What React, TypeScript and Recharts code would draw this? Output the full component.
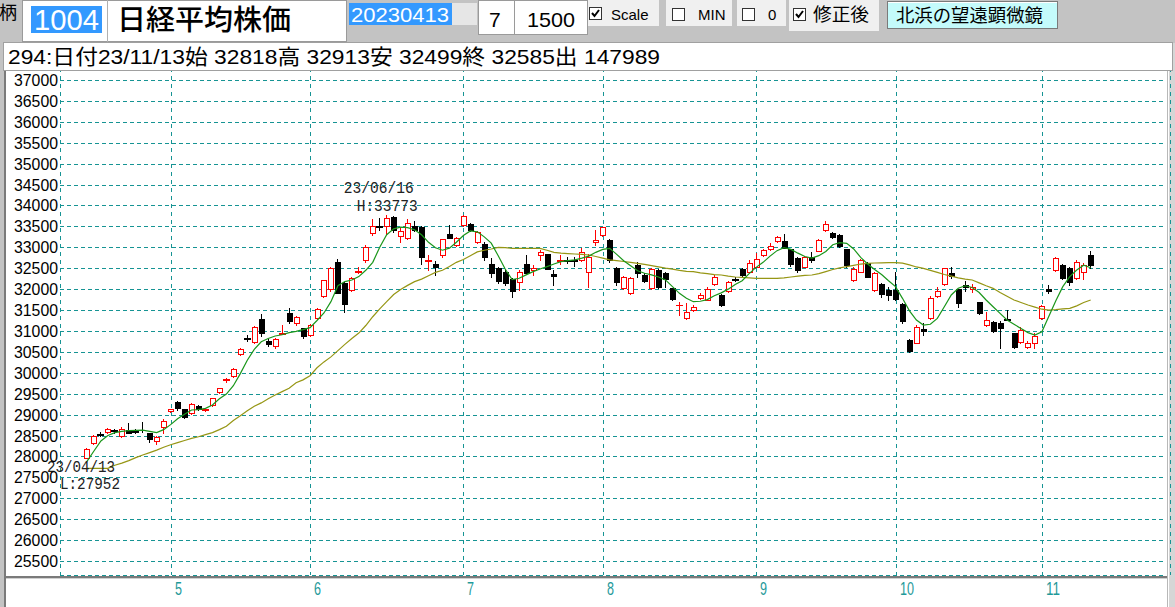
import { Bar, CartesianGrid, ComposedChart, Line, ReferenceDot, XAxis, YAxis } from 'recharts';

// 2023 trading days, MM/DD
const dates = [
  // Apr
  '04/13', '04/14', '04/17', '04/18', '04/19', '04/20', '04/21', '04/24', '04/25', '04/26', '04/27', '04/28',
  // May
  '05/01', '05/02', '05/08', '05/09', '05/10', '05/11', '05/12', '05/15', '05/16', '05/17',
  '05/18', '05/19', '05/22', '05/23', '05/24', '05/25', '05/26', '05/29', '05/30', '05/31',
  // Jun
  '06/01', '06/02', '06/05', '06/06', '06/07', '06/08', '06/09', '06/12', '06/13', '06/14',
  '06/15', '06/16', '06/19', '06/20', '06/21', '06/22', '06/23', '06/26', '06/27', '06/28', '06/29', '06/30',
  // Jul
  '07/03', '07/04', '07/05', '07/06', '07/07', '07/10', '07/11', '07/12', '07/13', '07/14',
  '07/18', '07/19', '07/20', '07/21', '07/24', '07/25', '07/26', '07/27', '07/28', '07/31',
  // Aug
  '08/01', '08/02', '08/03', '08/04', '08/07', '08/08', '08/09', '08/10', '08/14', '08/15',
  '08/16', '08/17', '08/18', '08/21', '08/22', '08/23', '08/24', '08/25', '08/28', '08/29', '08/30', '08/31',
  // Sep
  '09/01', '09/04', '09/05', '09/06', '09/07', '09/08', '09/11', '09/12', '09/13', '09/14',
  '09/15', '09/19', '09/20', '09/21', '09/22', '09/25', '09/26', '09/27', '09/28', '09/29',
  // Oct
  '10/02', '10/03', '10/04', '10/05', '10/06', '10/10', '10/11', '10/12', '10/13', '10/16',
  '10/17', '10/18', '10/19', '10/20', '10/23', '10/24', '10/25', '10/26', '10/27', '10/30', '10/31',
  // Nov
  '11/01', '11/02', '11/06', '11/07', '11/08', '11/09', '11/10', '11/13',
];

const opens = [
  27970, 28320, 28540, 28590, 28625, 28480, 28620, 28610, 28640, 28560, 28360, 28710,
  29090, 29300, 29130, 29040, 29200, 29110, 29230, 29540, 29820, 29920,
  30460, 30840, 30730, 31280, 30750, 30640, 30930, 31420, 31190, 31060,
  30910, 31310, 31840, 32000, 32650, 32140, 31990, 32420, 32690, 33340,
  33520, 33500, 33720, 33260, 33220, 33500, 33490, 32670, 32600, 32820, 33330, 33050,
  33540, 33550, 33120, 33090, 32600, 32500, 32420, 32250, 32180, 32610,
  32450, 32820, 32830, 32350, 32680, 32700, 32690, 32700, 32420, 33120,
  33300, 33180, 32500, 32020, 31900, 32570, 32340, 32020, 32450, 32380,
  32020, 31610, 31310, 31500, 31790, 31750, 32130, 31860, 31950, 32240, 32480, 32420,
  32540, 32820, 32960, 33140, 33160, 32950, 32740, 32540, 32760, 32920,
  33420, 33350, 33294, 32952, 32210, 32420, 32617, 31980, 32130, 31990,
  31990, 31644, 30783, 30719, 31050, 31300, 31840, 32120, 32380, 31994,
  32100, 32000, 31684, 31140, 31222, 31200, 31290, 30943, 30740, 30620, 30700,
  31302, 32000, 32457, 32577, 32498, 32258, 32420, 32818,
];

const highs = [
  28190, 28520, 28580, 28690, 28650, 28700, 28790, 28650, 28830, 28570, 28480, 28890,
  29140, 29330, 29140, 29280, 29220, 29140, 29400, 29640, 29870, 30120,
  30600, 30900, 31110, 31400, 30800, 30830, 31140, 31560, 31360, 31080,
  31160, 31540, 32230, 32540, 32720, 32160, 32290, 32540, 33060, 33670,
  33700, 33773, 33760, 33470, 33670, 33640, 33520, 32820, 32680, 33200, 33530, 33250,
  33770, 33580, 33390, 33120, 32740, 32520, 32450, 32270, 32460, 32820,
  32580, 32940, 32850, 32460, 32820, 32760, 32780, 32980, 32830, 33410,
  33490, 33200, 32520, 32310, 32300, 32660, 32380, 32500, 32470, 32400,
  32030, 31700, 31660, 31620, 31900, 32060, 32340, 31880, 32200, 32300, 32500, 32700,
  32860, 32960, 33096, 33260, 33330, 32960, 32760, 32800, 32890, 33190,
  33640, 33370, 33310, 32960, 32540, 32720, 32650, 32400, 32150, 32050,
  32400, 31660, 30800, 31140, 31180, 31830, 32040, 32500, 32537, 32000,
  32200, 32120, 31700, 31460, 31230, 31230, 31510, 30960, 31100, 30760, 30940,
  31620, 32098, 32760, 32600, 32520, 32700, 32620, 32913,
];

const lows = [
  27952, 28300, 28480, 28570, 28560, 28460, 28550, 28560, 28580, 28350, 28290, 28560,
  29070, 29120, 28930, 29020, 29110, 29080, 29200, 29520, 29780, 29900,
  30430, 30760, 30700, 30870, 30650, 30600, 30920, 31200, 31150, 30820,
  30880, 31280, 31820, 31960, 31900, 31460, 31950, 32380, 32660, 33300,
  33420, 33330, 33360, 33130, 33200, 33380, 32610, 32450, 32340, 32780, 33220, 33030,
  33520, 33400, 33100, 32700, 32300, 32150, 32100, 31820, 31980, 32370,
  32340, 32690, 32470, 32100, 32610, 32620, 32560, 32680, 32040, 33050,
  33280, 32650, 32100, 32000, 31880, 32300, 32180, 32000, 32020, 32050,
  31740, 31380, 31290, 31470, 31760, 31730, 32100, 31600, 31930, 32200, 32320, 32400,
  32520, 32800, 32940, 33120, 32980, 32550, 32410, 32520, 32650, 32900,
  33400, 33220, 33000, 32540, 32190, 32400, 32280, 31960, 31800, 31750,
  31740, 31200, 30487, 30700, 30900, 31280, 31820, 32100, 32258, 31580,
  31950, 31940, 31400, 31120, 30980, 30585, 31250, 30600, 30700, 30590, 30600,
  31280, 31900, 32440, 32250, 32100, 32240, 32250, 32499,
];

const closes = [
  28170, 28500, 28520, 28660, 28607, 28660, 28564, 28593, 28620, 28416, 28457, 28856,
  29123, 29158, 28950, 29243, 29122, 29127, 29388, 29626, 29843, 30093,
  30573, 30808, 31086, 30958, 30683, 30801, 30950, 31234, 31328, 30888,
  31148, 31524, 32217, 32506, 31914, 31641, 32265, 32434, 33018, 33502,
  33485, 33706, 33420, 33388, 33575, 33410, 32780, 32699, 32538, 33194, 33234, 33230,
  33753, 33422, 33370, 32773, 32388, 32190, 32150, 31944, 32420, 32391,
  32494, 32896, 32490, 32304, 32700, 32682, 32668, 32891, 32760, 33172,
  33476, 32708, 32159, 32290, 32255, 32377, 32204, 32474, 32060, 32239,
  31767, 31626, 31451, 31566, 31857, 32010, 32287, 31624, 32170, 32227, 32340, 32619,
  32711, 32939, 33037, 33241, 32991, 32607, 32468, 32776, 32707, 33168,
  33560, 33243, 33024, 32571, 32480, 32690, 32300, 32380, 31873, 31858,
  31760, 31238, 30527, 31102, 30995, 31780, 31950, 32495, 32316, 31659,
  32040, 32042, 31431, 31270, 31000, 31062, 31270, 30624, 31030, 30720, 30880,
  31596, 31950, 32737, 32272, 32166, 32660, 32568, 32585,
];

// short moving average (green)
const shortAverage = [
  27880, 28130, 28370, 28500, 28570, 28600, 28615, 28625, 28630, 28600, 28570, 28640,
  28760, 28900, 29010, 29110, 29120, 29150, 29230, 29380, 29490, 29690,
  29980, 30300, 30560, 30740, 30820, 30880, 30910, 30960, 30990, 31030,
  31080, 31250, 31430, 31700, 32080, 32180, 32218, 32300, 32450, 32640,
  33000, 33300, 33440, 33480, 33470, 33420, 33300, 33120, 32990, 32930, 32980, 33120,
  33280, 33390, 33370, 33250, 33100, 32800, 32480, 32230, 32260, 32340,
  32418, 32480, 32537, 32600, 32656, 32680, 32700, 32740, 32790, 32880,
  32950, 32975, 32830, 32680, 32560, 32440, 32380, 32340, 32290, 32220,
  32060, 31900, 31780, 31700, 31710, 31750, 31840, 31910, 32000, 32110, 32200, 32370,
  32520, 32640, 32790, 32920, 32990, 32950, 32860, 32780, 32740, 32800,
  32900, 33060, 33110, 33096, 32960, 32760, 32600, 32470, 32350, 32200,
  32060, 31780, 31480, 31260, 31140, 31160, 31300, 31580, 31860, 32020,
  32080, 32040, 31920, 31740, 31580, 31420, 31262, 31160, 31060, 30960, 30900,
  30982, 31350, 31720, 32060, 32300, 32457, 32570, 32510,
];

// long moving average (olive)
const longAverage = [
  27716, 27716, 27716, 27716, 27790, 27840, 27900, 27970, 28034, 28090, 28150, 28220,
  28280, 28330, 28380, 28430, 28470, 28520, 28570, 28640, 28720, 28860,
  28970, 29090, 29200, 29280, 29380, 29470, 29550, 29630, 29760, 29830,
  29930, 30120, 30260, 30380, 30530, 30680, 30820, 30950, 31130, 31340,
  31530, 31700, 31870, 31990, 32090, 32180, 32240, 32320, 32400, 32450, 32540, 32640,
  32710, 32800, 32890, 32930, 32960, 33000, 32990, 32975, 32975, 32975,
  32975, 32975, 32930, 32880, 32860, 32850, 32840, 32830, 32816, 32780,
  32740, 32700, 32680, 32660, 32640, 32617, 32590, 32560, 32530, 32500,
  32480, 32450, 32425, 32418, 32390, 32370, 32345, 32338, 32310, 32290, 32280, 32270,
  32258, 32258, 32258, 32258, 32270, 32290, 32310, 32330, 32338, 32370,
  32420, 32470, 32510, 32537, 32570, 32600, 32617, 32625, 32630, 32632,
  32632, 32620, 32580, 32530, 32498, 32450, 32400, 32350, 32310, 32270,
  32240, 32218, 32150, 32080, 32019, 31920, 31830, 31740, 31680, 31620, 31570,
  31520, 31500, 31510, 31530, 31541, 31600, 31680, 31740,
];

const priceTicks = [
  25500, 26000, 26500, 27000, 27500, 28000, 28500, 29000, 29500, 30000, 30500, 31000,
  31500, 32000, 32500, 33000, 33500, 34000, 34500, 35000, 35500, 36000, 36500, 37000,
];

const highlightHigh = 43;
const highlightLow = 0;

const gridColor = '#169494';
const jpFont = "'Liberation Sans', 'Noto Sans CJK JP', sans-serif";

const monthStarts = dates
  .map((d, i) => (i > 0 && d.slice(0, 2) !== dates[i - 1].slice(0, 2) ? i : -1))
  .filter((i) => i >= 0);

const rows = dates.map((date, i) => ({
  idx: i,
  date,
  open: opens[i],
  high: highs[i],
  low: lows[i],
  close: closes[i],
  short: shortAverage[i],
  long: longAverage[i],
}));

function Candle(props: any) {
  const { x, y, width, height, payload } = props;
  if (x == null || y == null || !payload) return null;
  const top = Math.min(y, y + height);
  const h = Math.abs(height);
  const span = payload.high - payload.low;
  const k = span > 0 ? h / span : 0;
  const py = (v: number) => top + (payload.high - v) * k;
  const cx = Math.round(x + width / 2);
  const up = payload.close >= payload.open;
  const color = up ? '#ff0000' : '#000000';
  const bodyTop = Math.round(py(Math.max(payload.open, payload.close)));
  const bodyBottom = Math.round(py(Math.min(payload.open, payload.close)));
  const wickTop = Math.round(top);
  const wickBottom = Math.round(top + h);
  const wx = cx + 0.5;

  if (bodyBottom - bodyTop < 2) {
    return (
      <g shapeRendering="crispEdges">
        <line x1={wx} x2={wx} y1={wickTop} y2={wickBottom + 1} stroke={color} />
        <line x1={cx - 3} x2={cx + 4} y1={bodyTop + 0.5} y2={bodyTop + 0.5} stroke={color} strokeWidth={bodyBottom - bodyTop + 1} />
      </g>
    );
  }
  return (
    <g shapeRendering="crispEdges">
      {bodyTop > wickTop && <line x1={wx} x2={wx} y1={wickTop} y2={bodyTop} stroke={color} />}
      {wickBottom > bodyBottom && <line x1={wx} x2={wx} y1={bodyBottom} y2={wickBottom + 1} stroke={color} />}
      {up ? (
        <rect x={cx - 2 + 0.5} y={bodyTop + 0.5} width={5} height={bodyBottom - bodyTop} fill="#ffffff" stroke={color} />
      ) : (
        <rect x={cx - 2} y={bodyTop} width={6} height={bodyBottom - bodyTop + 1} fill={color} />
      )}
    </g>
  );
}

function GridRow(p: any) {
  const y = Math.round(p.y1) + 0.5;
  return (
    <line
      key={p.key}
      x1={p.x1}
      x2={Math.min(p.x2, 1166)}
      y1={y}
      y2={y}
      stroke={gridColor}
      strokeDasharray="4 3"
      shapeRendering="crispEdges"
    />
  );
}

function GridColumn(p: any) {
  const x = Math.round(p.x1) + 0.5;
  return (
    <line
      key={p.key}
      x1={x}
      x2={x}
      y1={p.y1}
      y2={p.y2}
      stroke={gridColor}
      strokeDasharray="4 4"
      shapeRendering="crispEdges"
    />
  );
}

function PriceTick({ y, payload }: any) {
  return (
    <text x={58} y={y + 6} textAnchor="end" fontSize={16} textLength={44} lengthAdjust="spacingAndGlyphs" fontFamily="'Liberation Sans', Arial, sans-serif" fill="#000">
      {payload.value}
    </text>
  );
}

function MonthTick({ x, payload }: any) {
  const label = String(Number(dates[payload.value].slice(0, 2)));
  return (
    <text
      x={Math.round(x) + 4}
      y={595}
      fontSize={19}
      textLength={label.length * 7}
      lengthAdjust="spacingAndGlyphs"
      fontFamily="'Liberation Sans', Arial, sans-serif"
      fill="#1f9a9a"
    >
      {label}
    </text>
  );
}

function HighNote({ cx, cy }: any) {
  return (
    <g fontFamily="'Liberation Mono', 'DejaVu Sans Mono', monospace" fontSize={16} fill="#222">
      <text x={cx - 43} y={cy - 22} textLength={70} lengthAdjust="spacingAndGlyphs">
        {'23/' + dates[highlightHigh]}
      </text>
      <text x={cx - 30} y={cy - 4} textLength={61} lengthAdjust="spacingAndGlyphs">
        {'H:' + highs[highlightHigh]}
      </text>
    </g>
  );
}

function LowNote({ cx, cy }: any) {
  return (
    <g fontFamily="'Liberation Mono', 'DejaVu Sans Mono', monospace" fontSize={16} fill="#222">
      <text x={cx - 40} y={cy + 14} textLength={68} lengthAdjust="spacingAndGlyphs">
        {'23/' + dates[highlightLow]}
      </text>
      <text x={cx - 27} y={cy + 31} textLength={60} lengthAdjust="spacingAndGlyphs">
        {'L:' + lows[highlightLow]}
      </text>
    </g>
  );
}

function CheckBox({ x, y, checked }: { x: number; y: number; checked: boolean }) {
  return (
    <g>
      <rect x={x + 0.5} y={y + 0.5} width={12} height={12} fill="#ffffff" stroke="#333" />
      {checked && <path d={`M${x + 3} ${y + 6} l2.5 3 l4.5 -6`} stroke="#000" strokeWidth={2} fill="none" />}
    </g>
  );
}

function Header() {
  const last = dates.length - 1;
  const info = `294:日付23/${dates[last]}始 ${opens[last]}高 ${highs[last]}安 ${lows[last]}終 ${closes[last]}出 147989`;
  return (
    <svg width={1175} height={72} style={{ position: 'absolute', left: 0, top: 0 }}>
      <rect x={0} y={0} width={1175} height={43} fill="#c3c3c3" />
      <text x={-1} y={19} fontSize={18} fontFamily={jpFont} fill="#000">柄</text>

      <rect x={22.5} y={0.5} width={324} height={41} fill="#ffffff" stroke="#9a9a9a" />
      <rect x={31} y={6} width={71} height={27} fill="#3399ff" />
      <text x={34} y={30} fontSize={30} textLength={65} lengthAdjust="spacingAndGlyphs" fontFamily="'Liberation Sans', Arial" fill="#ffffff">1004</text>
      <line x1={107.5} x2={107.5} y1={0} y2={42} stroke="#b0b0b0" />
      <text x={117} y={30} fontSize={28} fontWeight={500} textLength={174} lengthAdjust="spacingAndGlyphs" fontFamily="'Noto Sans CJK JP', sans-serif" fill="#000">日経平均株価</text>

      <rect x={349} y={3} width={103} height={22} fill="#3399ff" />
      <text x={351} y={22} fontSize={21} textLength={98} lengthAdjust="spacingAndGlyphs" fontFamily="'Liberation Sans', Arial" fill="#ffffff">20230413</text>
      <rect x={452} y={3} width={25} height={22} fill="#e6e6e6" />

      <rect x={478.5} y={0.5} width={36} height={34} fill="#ffffff" stroke="#9a9a9a" />
      <text x={489} y={27} fontSize={21} fontFamily="'Liberation Sans', Arial" fill="#000">7</text>
      <rect x={514.5} y={0.5} width={73} height={34} fill="#ffffff" stroke="#9a9a9a" />
      <text x={527} y={27} fontSize={21} textLength={48} lengthAdjust="spacingAndGlyphs" fontFamily="'Liberation Sans', Arial" fill="#000">1500</text>

      <rect x={588} y={0} width={71} height={26} fill="#f0f0f0" />
      <CheckBox x={589} y={7} checked />
      <text x={611} y={20} fontSize={15} fontFamily="'Liberation Sans', Arial" fill="#000">Scale</text>
      <rect x={666} y={0} width={66} height={26} fill="#f0f0f0" />
      <CheckBox x={672} y={8} checked={false} />
      <text x={698} y={20} fontSize={15} fontFamily="'Liberation Sans', Arial" fill="#000">MIN</text>
      <rect x={737} y={0} width={49} height={26} fill="#f0f0f0" />
      <CheckBox x={742} y={8} checked={false} />
      <text x={768} y={20} fontSize={15} fontFamily="'Liberation Sans', Arial" fill="#000">0</text>
      <rect x={789} y={0} width={90} height={31} fill="#f0f0f0" />
      <CheckBox x={793} y={8} checked />
      <text x={813} y={21} fontSize={18} textLength={56} lengthAdjust="spacingAndGlyphs" fontFamily={jpFont} fill="#000">修正後</text>

      <rect x={887.5} y={1.5} width={170} height={27} fill="#c4fbfb" stroke="#7a7a7a" />
      <line x1={888} x2={1057} y1={2.5} y2={2.5} stroke="#ffffff" />
      <text x={896} y={22} fontSize={18} textLength={147} lengthAdjust="spacingAndGlyphs" fontFamily={jpFont} fill="#000">北浜の望遠顕微鏡</text>

      <rect x={3.5} y={42.5} width={1169} height={28} fill="#ffffff" stroke="#a0a0a0" />
      <text x={8} y={64} fontSize={21} textLength={652} lengthAdjust="spacingAndGlyphs" fontFamily={jpFont} fill="#000">{info}</text>
    </svg>
  );
}

export default function App() {
  return (
    <div style={{ position: 'fixed', left: 0, top: 0, width: 1175, height: 607, background: '#c3c3c3', overflow: 'hidden' }}>
      <svg width={1175} height={607} style={{ position: 'absolute', left: 0, top: 0 }}>
        <rect x={1168} y={43} width={7} height={564} fill="#d6d6d6" />
        <rect x={4} y={70} width={1165} height={537} fill="#ffffff" />
        <rect x={4} y={70} width={2} height={537} fill="#7a7a7a" />
        <rect x={1167} y={70} width={1} height={537} fill="#b8b8b8" />
        <rect x={6} y={576} width={1161} height={2} fill="#7a7a7a" />
        <rect x={6} y={578} width={1161} height={1} fill="#d0d0d0" />
      </svg>
      <div style={{ position: 'absolute', left: 0, top: 0 }}>
        <ComposedChart width={1175} height={607} data={rows} margin={{ top: 68, right: 5, bottom: 0, left: 0 }}>
          <CartesianGrid horizontal={GridRow} vertical={GridColumn} />
          <XAxis
            dataKey="idx"
            type="number"
            domain={[-3.87, 155.38]}
            allowDataOverflow
            ticks={monthStarts}
            interval={0}
            tick={<MonthTick />}
            axisLine={false}
            tickLine={false}
            height={32}
          />
          <YAxis
            type="number"
            domain={[25165, 37287]}
            allowDataOverflow
            ticks={priceTicks}
            interval={0}
            tick={<PriceTick />}
            axisLine={false}
            tickLine={false}
            width={60}
          />
          <Line dataKey="long" type="linear" stroke="#969614" strokeWidth={1.2} dot={false} isAnimationActive={false} />
          <Bar dataKey={(d: any) => [d.low, d.high]} barSize={6} shape={<Candle />} isAnimationActive={false} />
          <Line dataKey="short" type="linear" stroke="#1a961a" strokeWidth={1.2} dot={false} isAnimationActive={false} />
          <ReferenceDot x={highlightHigh} y={highs[highlightHigh]} r={1} shape={(p: any) => <HighNote {...p} />} ifOverflow="visible" />
          <ReferenceDot x={highlightLow} y={lows[highlightLow]} r={1} shape={(p: any) => <LowNote {...p} />} ifOverflow="visible" />
        </ComposedChart>
      </div>
      <Header />
    </div>
  );
}
